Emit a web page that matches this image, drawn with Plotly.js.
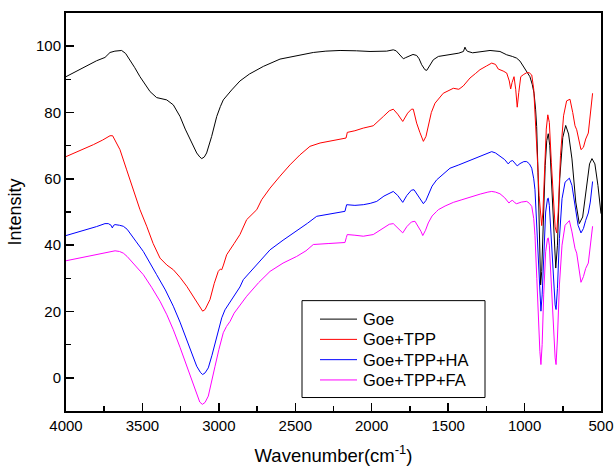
<!DOCTYPE html>
<html>
<head>
<meta charset="utf-8">
<script src="https://cdn.plot.ly/plotly-3.0.1.min.js"></script>
<style>html,body{margin:0;padding:0;background:#fff;}#chart{width:614px;height:469px;}</style>
</head>
<body>
<div id="chart"></div>
<script>
// Series names (legend labels)
const seriesNames = ["Goe", "Goe+TPP", "Goe+TPP+HA", "Goe+TPP+FA"];
const seriesColors = ["#000000", "#ff0000", "#0000ff", "#ff00ff"];

// [wavenumber (cm-1), intensity]
const goe = [[4000,90.8],[3900,93.2],[3800,95.6],[3745,96.6],[3725,97.6],[3712,98.1],[3680,98.5],[3636,98.7],[3610,97.8],[3581,95.9],[3550,93.5],[3516,90.8],[3480,88.3],[3450,86.3],[3407,84.5],[3370,84.0],[3341,83.8],[3298,82.3],[3254,78.8],[3220,75.0],[3189,71.8],[3145,67.8],[3125,66.6],[3112,66.1],[3095,66.6],[3080,67.8],[3047,72.8],[3014,78.8],[2990,81.8],[2971,83.8],[2916,86.8],[2862,89.5],[2800,91.6],[2709,93.9],[2600,96.1],[2491,97.1],[2382,98.1],[2300,98.5],[2207,98.7],[2100,98.6],[2011,98.4],[1902,98.5],[1859,98.9],[1840,98.6],[1826,97.9],[1810,96.9],[1793,96.2],[1780,96.5],[1761,96.9],[1730,97.5],[1706,97.2],[1690,96.2],[1673,94.4],[1652,92.9],[1640,92.7],[1630,93.4],[1615,94.6],[1597,95.9],[1564,96.9],[1488,97.4],[1430,97.9],[1400,98.4],[1390,99.7],[1380,98.7],[1370,98.4],[1340,98.0],[1300,98.2],[1226,98.7],[1161,98.4],[1117,97.4],[1080,96.9],[1052,96.4],[1030,95.5],[1008,93.9],[985,92.3],[965,90.8],[950,88.5],[938,85.8],[928,81.0],[921,75.8],[912,62],[903,44],[895,28.0],[888,32],[878,48],[865,64],[855,71.5],[845,73.6],[835,70],[822,58],[808,42],[796,33.1],[785,40],[770,60],[750,72.5],[731,76.1],[712,73.5],[690,66],[665,53],[642,46.5],[620,48.5],[595,58],[575,64.5],[559,66.1],[540,64.5],[520,58],[505,52],[500,49.5]];

const goeTPP = [[4000,66.7],[3900,68.6],[3821,70.3],[3760,71.7],[3712,73.0],[3695,73.0],[3670,71.0],[3647,68.8],[3603,62.7],[3560,56.8],[3516,50.7],[3472,45.7],[3430,40.5],[3385,36.1],[3340,34.0],[3298,32.6],[3254,30.3],[3210,27.6],[3175,25.0],[3145,22.6],[3120,20.8],[3106,20.1],[3090,20.6],[3058,23.6],[3030,28.5],[3004,32.1],[2990,32.8],[2981,32.6],[2970,34.0],[2949,37.1],[2900,40.5],[2862,43.2],[2818,47.7],[2752,50.7],[2720,53.7],[2665,57.2],[2600,60.8],[2535,64.2],[2470,67.2],[2404,69.8],[2338,70.8],[2250,71.5],[2168,72.3],[2162,73.5],[2160,74.0],[2110,74.5],[2055,75.3],[1990,76.0],[1960,77.2],[1924,78.8],[1885,80.5],[1859,81.0],[1830,79.5],[1797,77.3],[1765,79.8],[1740,81.0],[1728,81.0],[1706,76.8],[1685,74.0],[1662,71.3],[1645,72.8],[1630,75.8],[1610,80.0],[1586,82.8],[1532,85.8],[1466,87.3],[1430,87.0],[1401,88.0],[1380,89.0],[1357,90.4],[1320,91.8],[1292,92.9],[1250,94.0],[1215,94.9],[1190,94.5],[1172,93.1],[1140,92.5],[1117,91.9],[1100,89.5],[1091,87.1],[1082,89.0],[1069,90.8],[1058,87],[1048,81.6],[1038,86],[1025,90.8],[1005,91.5],[986,92.0],[970,92.0],[953,91.3],[940,87],[928,78],[915,65],[905,55],[895,47.5],[888,45.9],[880,50],[870,63],[858,75],[848,79.3],[838,77],[825,65],[810,52],[800,45.5],[790,43.7],[780,50],[765,67],[745,79],[725,83.5],[703,84.0],[685,80],[670,76],[659,74.8],[645,71.5],[631,68.8],[615,69.5],[600,72],[583,73.8],[570,79],[560,83],[555,85.8]];

const goeTPPHA = [[4000,42.9],[3930,43.8],[3865,44.7],[3800,45.6],[3745,46.5],[3723,46.5],[3705,46.0],[3697,45.2],[3688,46.0],[3679,46.2],[3650,46.0],[3625,45.7],[3600,44.8],[3581,43.7],[3540,41.0],[3494,38.1],[3450,34.7],[3407,31.1],[3350,26.5],[3298,21.6],[3254,16.8],[3210,11.5],[3175,7.2],[3145,3.5],[3120,1.6],[3106,1.0],[3090,1.5],[3069,3.0],[3045,6.8],[3025,10.5],[3000,15.0],[2981,18.1],[2960,20.5],[2938,22.1],[2900,25.0],[2862,27.4],[2840,29.6],[2750,34.3],[2665,38.6],[2580,41.5],[2491,44.2],[2420,46.6],[2360,48.7],[2270,49.5],[2175,50.2],[2168,51.5],[2164,52.2],[2110,52.0],[2055,52.2],[2010,52.6],[1967,53.2],[1920,54.8],[1880,55.8],[1859,56.2],[1830,55.0],[1797,52.9],[1770,55.0],[1740,56.6],[1723,56.7],[1695,54.7],[1675,53.2],[1662,52.5],[1645,53.5],[1630,55.2],[1605,57.8],[1575,59.7],[1530,61.5],[1488,63.2],[1430,64.2],[1379,65.2],[1300,66.6],[1240,67.7],[1215,68.2],[1190,67.8],[1161,66.7],[1130,65.8],[1107,64.5],[1092,65.3],[1078,65.5],[1062,64.5],[1048,63.9],[1030,64.6],[1005,65.2],[986,65.2],[968,64.5],[953,63.2],[940,60],[932,56.7],[920,45],[910,32],[900,23],[893,20.1],[885,25],[875,38],[862,50],[850,54],[845,54.2],[838,52],[825,42],[812,30],[800,22],[794,20.6],[785,27],[772,42],[755,54],[735,59],[707,60.2],[690,58],[670,52],[650,46],[631,43.7],[615,45],[600,47.5],[583,49.7],[570,53],[560,57],[555,59.2]];

const goeTPPFA = [[4000,35.3],[3900,36.3],[3821,37.1],[3750,37.8],[3700,38.2],[3679,38.3],[3650,38.1],[3625,37.6],[3600,36.6],[3570,35.1],[3530,33.2],[3494,31.1],[3440,27.3],[3385,23.1],[3340,19.0],[3298,14.5],[3254,9.2],[3210,3.5],[3175,-1.0],[3145,-5.0],[3125,-7.3],[3108,-8.0],[3090,-7.4],[3069,-5.5],[3045,-1.0],[3025,3.5],[3000,8.5],[2971,13.6],[2950,15.5],[2927,17.0],[2900,19.5],[2862,21.8],[2818,24.6],[2740,28.7],[2665,32.1],[2580,34.6],[2491,36.6],[2430,38.3],[2382,40.2],[2280,40.5],[2175,40.8],[2166,42.3],[2160,43.2],[2110,43.0],[2055,42.7],[1990,43.2],[1924,45.2],[1885,46.3],[1859,46.5],[1830,45.3],[1797,43.7],[1770,45.6],[1740,47.0],[1717,47.2],[1695,45.7],[1678,44.2],[1666,42.9],[1648,44.5],[1630,46.7],[1605,48.8],[1575,50.2],[1564,50.7],[1520,51.8],[1466,52.9],[1410,53.7],[1357,54.5],[1290,55.4],[1240,56.0],[1215,56.2],[1190,56.0],[1161,55.5],[1130,54.3],[1102,52.7],[1090,53.3],[1078,53.5],[1064,52.8],[1052,52.5],[1020,53.0],[986,53.2],[968,52.6],[953,51.7],[940,48],[932,43],[920,30],[910,17],[900,8],[893,4.0],[885,10],[875,25],[862,38],[850,42],[845,42.2],[838,40],[825,28],[812,15],[800,6],[794,4.0],[785,12],[772,28],[755,40],[735,46],[707,47.4],[690,44],[670,39],[659,37.6],[645,33],[631,28.8],[615,30.5],[600,33],[583,34.6],[570,40],[560,44],[555,45.7]];

const xTicks = [4000, 3500, 3000, 2500, 2000, 1500, 1000, 500];
const yTicks = [0, 20, 40, 60, 80, 100];

const allSeries = [goe, goeTPP, goeTPPHA, goeTPPFA];
const traces = allSeries.map((s, i) => ({
  type: "scatter",
  mode: "lines",
  name: seriesNames[i],
  x: s.map(p => p[0]),
  y: s.map(p => p[1]),
  line: {color: seriesColors[i], width: 1},
  hoverinfo: "skip",
  showlegend: false
}));

// Plot area geometry (pixels) used to place the legend box in paper units
const W = 614, H = 469;
const M = {l: 66, r: 13, t: 13, b: 57.5};
const PW = W - M.l - M.r, PH = H - M.t - M.b;
const px = v => (v - M.l) / PW;
const py = v => (H - M.b - v) / PH;

const font = "Arial, 'Liberation Sans', Helvetica, sans-serif";

// Legend (box, sample lines, labels)
const legendShapes = [{
  type: "rect", xref: "paper", yref: "paper",
  x0: px(302), x1: px(485), y0: py(398), y1: py(301),
  line: {color: "#000", width: 1}, fillcolor: "rgba(0,0,0,0)"
}];
const legendAnn = [];
seriesNames.forEach((n, i) => {
  const rowY = 319.5 + i * 20.3;
  legendShapes.push({
    type: "line", xref: "paper", yref: "paper",
    x0: px(320), x1: px(357), y0: py(rowY), y1: py(rowY),
    line: {color: seriesColors[i], width: 1}
  });
  legendAnn.push({
    xref: "paper", yref: "paper", x: px(361), y: py(rowY),
    xanchor: "left", yanchor: "middle", showarrow: false,
    text: n, font: {family: font, size: 16.5, color: "#000"}
  });
});

const layout = {
  width: W, height: H,
  margin: M,
  paper_bgcolor: "#ffffff", plot_bgcolor: "#ffffff",
  font: {family: font, color: "#000", size: 15},
  showlegend: false,
  xaxis: {
    range: [4000, 500], autorange: false,
    tickmode: "array", tickvals: xTicks, ticktext: xTicks.map(String),
    ticks: "inside", ticklen: 8, tickwidth: 1.5, tickcolor: "#000",
    minor: {dtick: 250, tick0: 500, ticks: "inside", ticklen: 5, tickwidth: 1.5, tickcolor: "#000"},
    showline: true, linecolor: "#000", linewidth: 2, mirror: true,
    showgrid: false, zeroline: false,
    tickfont: {family: font, size: 15, color: "#000"},
    title: {text: "Wavenumber(cm<sup>-1</sup>)", font: {family: font, size: 18.5, color: "#000"}, standoff: 16}
  },
  yaxis: {
    range: [-10, 110], autorange: false,
    tickmode: "array", tickvals: yTicks, ticktext: yTicks.map(String),
    ticks: "inside", ticklen: 8, tickwidth: 1.5, tickcolor: "#000",
    minor: {dtick: 10, tick0: 0, ticks: "inside", ticklen: 5, tickwidth: 1.5, tickcolor: "#000"},
    showline: true, linecolor: "#000", linewidth: 2, mirror: true,
    showgrid: false, zeroline: false,
    tickfont: {family: font, size: 15, color: "#000"},
    title: {text: "Intensity", font: {family: font, size: 18, color: "#000"}, standoff: 10}
  },
  shapes: legendShapes,
  annotations: legendAnn
};

Plotly.newPlot("chart", traces, layout, {displayModeBar: false, staticPlot: true});
</script>
</body>
</html>
